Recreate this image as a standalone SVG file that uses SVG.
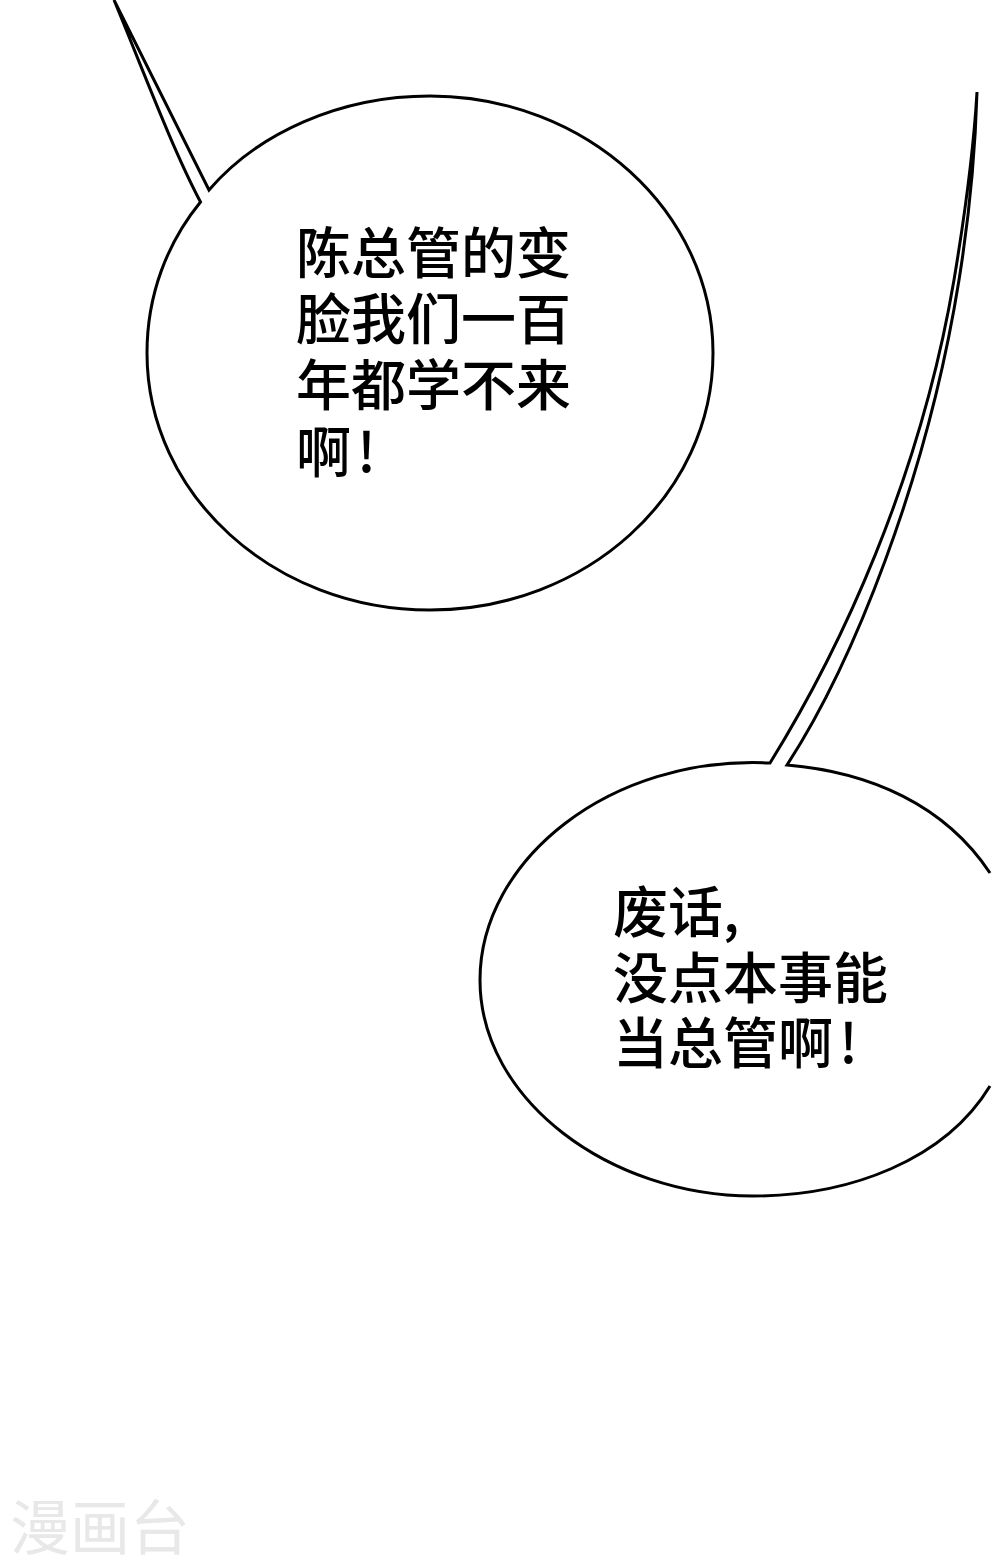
<svg xmlns="http://www.w3.org/2000/svg" width="1000" height="1565" viewBox="0 0 1000 1565">
<style>
.b{fill:none;stroke:#000;stroke-width:3;stroke-linejoin:miter}
.t{font-family:"Noto Sans CJK SC","Noto Sans",sans-serif;font-size:55px;font-weight:500;fill:#000}
.w{font-family:"Noto Sans CJK SC","Noto Sans",sans-serif;font-size:60px;fill:#e8e8e8}
</style>
<rect width="1000" height="1565" fill="#fff"/>
<g id="bubble1">
<path class="b" d="M114 0 L209 190 C258 133 340 96 430 96 C586 96 713 212 713 353 C713 495 586 610 430 610 C274 610 147 495 147 353 C147 295 167 243 200.500 202 C172 148 143 70 114 0"/>
<text class="t" x="296" y="273">陈总管的变</text>
<text class="t" x="296" y="339">脸我们一百</text>
<text class="t" x="296" y="405">年都学不来</text>
<text class="t" x="296" y="472">啊<tspan dx="6">!</tspan></text>
</g>
<g id="bubble2">
<path class="b" d="M990 873 C945 805 870 772 787 765 C852 665 927 480 959 280 C968 224 975 160 977 92 C973 160 964 220 954 280 C920 480 840 650 770 763 C610 755 480 860 480 980 C480 1100 610 1196 753 1196 C850 1196 945 1160 990 1086"/>
<text class="t" x="613" y="932">废话,</text>
<text class="t" x="613" y="998">没点本事能</text>
<text class="t" x="613" y="1063">当总管啊<tspan dx="6">!</tspan></text>
</g>
<g id="watermark"><text class="w" x="10" y="1550">漫画台</text></g>
</svg>
